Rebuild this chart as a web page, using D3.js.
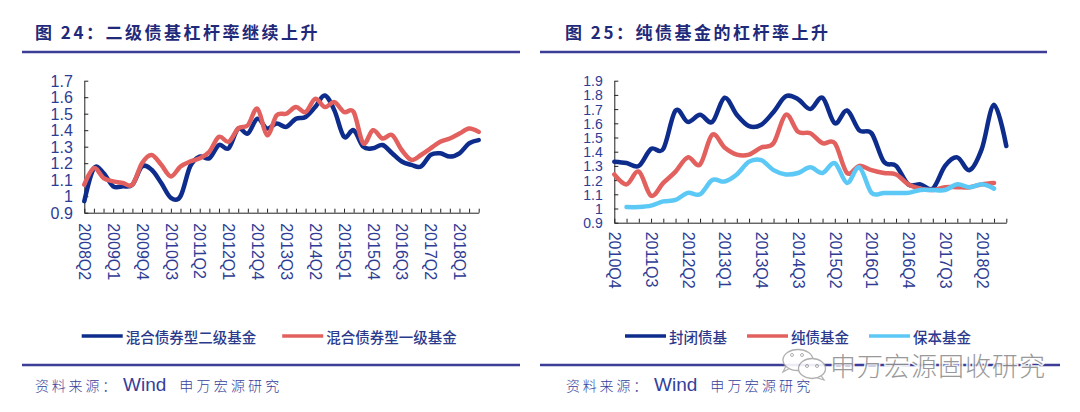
<!DOCTYPE html>
<html>
<head>
<meta charset="utf-8">
<script src="https://cdn.jsdelivr.net/npm/d3@7/dist/d3.min.js"></script>
<style>
  html, body { margin: 0; padding: 0; background: #fff; }
  svg { display: block; }
</style>
</head>
<body>
<svg id="chart" width="1080" height="412"></svg>
<script>
// ---------------- DATA ----------------
const leftTitle = "图 24：二级债基杠杆率继续上升";
const rightTitle = "图 25：纯债基金的杠杆率上升";

const leftCategories = [
  "2008Q2","2008Q3","2008Q4","2009Q1","2009Q2","2009Q3","2009Q4","2010Q1","2010Q2","2010Q3",
  "2010Q4","2011Q1","2011Q2","2011Q3","2011Q4","2012Q1","2012Q2","2012Q3","2012Q4","2013Q1",
  "2013Q2","2013Q3","2013Q4","2014Q1","2014Q2","2014Q3","2014Q4","2015Q1","2015Q2","2015Q3",
  "2015Q4","2016Q1","2016Q2","2016Q3","2016Q4","2017Q1","2017Q2","2017Q3","2017Q4","2018Q1",
  "2018Q2","2018Q3"
];
const leftTickLabels = ["2008Q2","2009Q1","2009Q4","2010Q3","2011Q2","2012Q1","2012Q4",
  "2013Q3","2014Q2","2015Q1","2015Q4","2016Q3","2017Q2","2018Q1"];
const leftYTicks = [0.9, 1.0, 1.1, 1.2, 1.3, 1.4, 1.5, 1.6, 1.7];

const leftSeriesNames = ["混合债券型二级基金", "混合债券型一级基金"];
const mixedLevel2 = [
  0.97, 1.17, 1.14, 1.06, 1.06, 1.07, 1.18, 1.16, 1.08, 0.99,
  1.00, 1.18, 1.24, 1.23, 1.31, 1.29, 1.41, 1.38, 1.47, 1.41,
  1.44, 1.42, 1.47, 1.48, 1.54, 1.61, 1.52, 1.36, 1.40, 1.30,
  1.29, 1.31, 1.26, 1.21, 1.19, 1.18, 1.25, 1.26, 1.24, 1.26,
  1.32, 1.34
];
const mixedLevel1 = [
  1.07, 1.17, 1.11, 1.09, 1.08, 1.07, 1.20, 1.25, 1.19, 1.12,
  1.18, 1.21, 1.23, 1.27, 1.36, 1.33, 1.41, 1.43, 1.53, 1.37,
  1.49, 1.50, 1.54, 1.51, 1.59, 1.54, 1.57, 1.51, 1.51, 1.32,
  1.40, 1.35, 1.37, 1.28, 1.22, 1.25, 1.29, 1.33, 1.35, 1.38,
  1.41, 1.39
];

const rightCategories = [
  "2010Q4","2011Q1","2011Q2","2011Q3","2011Q4","2012Q1","2012Q2","2012Q3","2012Q4","2013Q1",
  "2013Q2","2013Q3","2013Q4","2014Q1","2014Q2","2014Q3","2014Q4","2015Q1","2015Q2","2015Q3",
  "2015Q4","2016Q1","2016Q2","2016Q3","2016Q4","2017Q1","2017Q2","2017Q3","2017Q4","2018Q1",
  "2018Q2","2018Q3","2018Q4"
];
const rightTickLabels = ["2010Q4","2011Q3","2012Q2","2013Q1","2013Q4","2014Q3","2015Q2",
  "2016Q1","2016Q4","2017Q3","2018Q2"];
const rightYTicks = [0.9, 1.0, 1.1, 1.2, 1.3, 1.4, 1.5, 1.6, 1.7, 1.8, 1.9];

const rightSeriesNames = ["封闭债基", "纯债基金", "保本基金"];
const closedBond = [
  1.33, 1.32, 1.30, 1.42, 1.42, 1.69, 1.61, 1.66, 1.61, 1.78,
  1.66, 1.58, 1.59, 1.68, 1.79, 1.77, 1.70, 1.78, 1.60, 1.69,
  1.55, 1.53, 1.33, 1.30, 1.17, 1.17, 1.14, 1.30, 1.36, 1.27,
  1.42, 1.73, 1.44
];
const pureBond = [
  1.24, 1.17, 1.26, 1.09, 1.18, 1.26, 1.36, 1.31, 1.52, 1.43,
  1.38, 1.38, 1.43, 1.46, 1.66, 1.54, 1.53, 1.46, 1.46, 1.25,
  1.30, 1.27, 1.25, 1.24, 1.17, 1.14, 1.13, 1.15, 1.15, 1.15,
  1.17, 1.18, null
];
const capitalProtected = [
  null, 1.01, 1.01, 1.02, 1.05, 1.06, 1.11, 1.10, 1.20, 1.19,
  1.24, 1.33, 1.34, 1.27, 1.24, 1.25, 1.29, 1.25, 1.32, 1.18,
  1.29, 1.11, 1.11, 1.11, 1.11, 1.13, 1.13, 1.13, 1.17, 1.15,
  1.17, 1.14, null
];

const sourceLabel = "资料来源：";
const sourceName = "Wind";
const sourceOrg = "申万宏源研究";
const watermarkText = "申万宏源固收研究";

// ---------------- STYLE ----------------
const C = {
  navy: "#0d2c8c",
  red: "#e2615f",
  sky: "#5cc8f5",
  title: "#1f2a7a",
  rule: "#3b3d96",
  tick: "#2d3c94",
  text: "#2b3a8c",
  axis: "#222"
};
const CJK = "'Noto Sans CJK SC', 'Noto Sans', sans-serif";
const LATIN = "'Liberation Sans', Arial, sans-serif";

const svg = d3.select("#chart");

// ---------------- HEADER & FOOTER ----------------
function header(x, textX, x2, title) {
  svg.append("text")
    .attr("x", textX).attr("y", 38.5)
    .attr("font-family", CJK).attr("font-weight", 700)
    .attr("font-size", 17).attr("letter-spacing", 2.5)
    .attr("fill", C.title).text(title);
  svg.append("line")
    .attr("x1", x).attr("x2", x2).attr("y1", 52).attr("y2", 52)
    .attr("stroke", C.rule).attr("stroke-width", 2.6);
}
header(22, 35, 520, leftTitle);
header(540, 565, 1047, rightTitle);

function footer(x, x1, x2) {
  svg.append("line")
    .attr("x1", x1).attr("x2", x2).attr("y1", 365).attr("y2", 365)
    .attr("stroke", C.rule).attr("stroke-width", 2.6);
  const t = svg.append("text").attr("x", x).attr("y", 391).attr("fill", "#34409a");
  t.append("tspan").attr("font-family", CJK).attr("font-weight", 300)
    .attr("font-size", 14).attr("letter-spacing", 2.8).text(sourceLabel);
  t.append("tspan").attr("dx", 4).attr("font-family", LATIN)
    .attr("font-size", 19).text(sourceName);
  t.append("tspan").attr("dx", 13).attr("font-family", CJK).attr("font-weight", 300)
    .attr("font-size", 14).attr("letter-spacing", 3.2).text(sourceOrg);
}
footer(35, 22, 520);
footer(566, 540, 1060);

// ---------------- CHART BUILDER ----------------
function drawChart(cfg) {
  const x = d3.scalePoint().domain(cfg.categories).range([cfg.x0, cfg.x1]);
  const y = d3.scaleLinear().domain([cfg.yTicks[0], cfg.yTicks[cfg.yTicks.length - 1]])
    .range([cfg.yBottom, cfg.yTop]);

  const g = svg.append("g");

  // y axis
  const yAxis = d3.axisLeft(y).tickValues(cfg.yTicks)
    .tickSizeInner(-4).tickSizeOuter(0).tickPadding(11.5)
    .tickFormat(d => String(Math.round(d * 10) / 10));
  const ya = g.append("g").attr("transform", `translate(${cfg.x0},0)`).call(yAxis);
  ya.selectAll("path, line").attr("stroke", C.axis).attr("stroke-width", 1);
  ya.selectAll("text").attr("font-family", LATIN).attr("font-size", cfg.yFont).attr("fill", C.tick)
    .attr("dy", "0.36em");

  // x axis
  const xAxis = d3.axisBottom(x).tickSizeInner(-4).tickSizeOuter(0)
    .tickFormat(d => cfg.tickLabels.includes(d) ? d : "");
  const xa = g.append("g").attr("transform", `translate(0,${cfg.yBottom})`).call(xAxis);
  xa.selectAll("path, line").attr("stroke", C.axis).attr("stroke-width", 1);
  xa.selectAll("text")
    .attr("font-family", LATIN).attr("font-size", 16).attr("fill", C.tick)
    .attr("text-anchor", "start")
    .attr("transform", "rotate(90)")
    .attr("x", cfg.labelGap).attr("y", 0).attr("dy", "0.36em");

  // lines
  const line = d3.line()
    .defined(d => d.v != null)
    .x(d => x(d.c)).y(d => y(d.v))
    .curve(d3.curveCardinal.tension(0));
  cfg.series.forEach(s => {
    const pts = cfg.categories.map((c, i) => ({ c, v: s.values[i] }));
    g.append("path").datum(pts)
      .attr("d", line)
      .attr("fill", "none").attr("stroke", s.color)
      .attr("stroke-width", 4.5)
      .attr("stroke-linejoin", "round").attr("stroke-linecap", "round");
  });

  // legend
  const lg = g.append("g");
  let cx = cfg.legendX;
  cfg.series.forEach(s => {
    lg.append("line")
      .attr("x1", cx).attr("x2", cx + 41).attr("y1", 336).attr("y2", 336)
      .attr("stroke", s.color).attr("stroke-width", 3.6);
    const t = lg.append("text")
      .attr("x", cx + 44).attr("y", 336).attr("dominant-baseline", "central")
      .attr("font-family", CJK).attr("font-weight", 500).attr("font-size", 14.5)
      .attr("fill", C.text).text(s.name);
    cx = cx + 44 + t.node().getComputedTextLength() + cfg.legendGap;
  });
}

drawChart({
  categories: leftCategories, tickLabels: leftTickLabels, yTicks: leftYTicks,
  x0: 84.3, x1: 478.7, yTop: 80.7, yBottom: 212.7, labelGap: 10.5, yFont: 16,
  legendX: 81.7, legendGap: 26,
  series: [
    { name: leftSeriesNames[0], values: mixedLevel2, color: C.navy },
    { name: leftSeriesNames[1], values: mixedLevel1, color: C.red }
  ]
});

drawChart({
  categories: rightCategories, tickLabels: rightTickLabels, yTicks: rightYTicks,
  x0: 614.3, x1: 1006.3, yTop: 80.7, yBottom: 222.7, labelGap: 9, yFont: 14,
  legendX: 625, legendGap: 20,
  series: [
    { name: rightSeriesNames[0], values: closedBond, color: C.navy },
    { name: rightSeriesNames[1], values: pureBond, color: C.red },
    { name: rightSeriesNames[2], values: capitalProtected, color: C.sky }
  ]
});

// ---------------- WATERMARK ----------------
const wm = svg.append("g").attr("opacity", 0.9);
wm.append("path")
  .attr("d", "M786,366 L783,372 L790,368 Z")
  .attr("fill", "#fff").attr("stroke", "#a8a8a8").attr("stroke-width", 1.2);
wm.append("ellipse").attr("cx", 798).attr("cy", 360).attr("rx", 15).attr("ry", 10.5)
  .attr("fill", "#fff").attr("stroke", "#a8a8a8").attr("stroke-width", 1.3);
wm.append("path")
  .attr("d", "M820,374 L824,380 L815,377 Z")
  .attr("fill", "#fff").attr("stroke", "#a8a8a8").attr("stroke-width", 1.2);
wm.append("ellipse").attr("cx", 812).attr("cy", 368.5).attr("rx", 13.5).attr("ry", 10)
  .attr("fill", "#fff").attr("stroke", "#a8a8a8").attr("stroke-width", 1.3);
[[792, 355], [802, 355], [807, 366], [817, 366]].forEach(p => {
  wm.append("circle").attr("cx", p[0]).attr("cy", p[1]).attr("r", 1.5)
    .attr("fill", "none").attr("stroke", "#a8a8a8").attr("stroke-width", 1);
});
wm.append("text")
  .attr("x", 830).attr("y", 364.5).attr("dominant-baseline", "central")
  .attr("font-family", CJK).attr("font-weight", 300).attr("font-size", 26)
  .attr("letter-spacing", 1)
  .attr("fill", "#8f8f8f").attr("stroke", "#fff").attr("stroke-width", 3)
  .attr("paint-order", "stroke")
  .text(watermarkText);
</script>
</body>
</html>
